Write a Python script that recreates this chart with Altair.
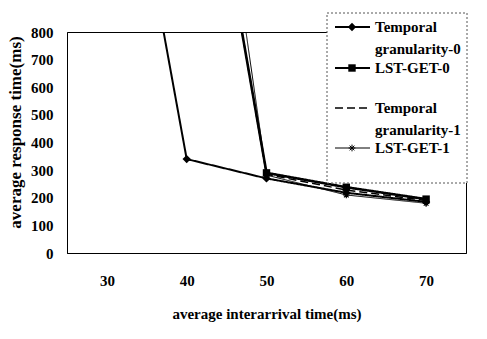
import altair as alt
import pandas as pd

# ---- data ----
categories = [30, 40, 50, 60, 70]
series_names = ["Temporal granularity-0", "LST-GET-0", "Temporal granularity-1", "LST-GET-1"]
tg0_values = [1930, 340, 270, 218, 185]
lst0_values = [None, 1950, 290, 238, 195]
tg1_values = [None, 1960, 285, 228, 190]
lst1_values = [None, 2300, 282, 210, 180]
y_ticks = [0, 100, 200, 300, 400, 500, 600, 700, 800]
legend_lines = [["Temporal", "granularity-0"], ["LST-GET-0"], ["Temporal", "granularity-1"], ["LST-GET-1"]]

FONT = "Liberation Serif"
STAR = "M-1,0L1,0M0,-1L0,1M-0.7,-0.7L0.7,0.7M-0.7,0.7L0.7,-0.7"

all_values = [tg0_values, lst0_values, tg1_values, lst1_values]
rows = []
for name, vals in zip(series_names, all_values):
    for c, v in zip(categories, vals):
        if v is not None:
            rows.append({"series": name, "x": c, "y": v})
df = pd.DataFrame(rows)

styles = {
    "Temporal granularity-0": dict(width=2, dash=[1, 0], shape="diamond", size=70, filled=True),
    "LST-GET-0": dict(width=2.6, dash=[1, 0], shape="square", size=55, filled=True),
    "Temporal granularity-1": dict(width=1.5, dash=[8, 4], shape=None, size=0, filled=True),
    "LST-GET-1": dict(width=1, dash=[1, 0], shape=STAR, size=45, filled=False),
}

xscale = alt.Scale(domain=[25, 75], nice=False)
yscale = alt.Scale(domain=[0, 800], nice=False)

xenc = alt.X("x:Q", scale=xscale,
             axis=alt.Axis(values=categories, format="d", title="average interarrival time(ms)",
                           grid=False, ticks=False, labelPadding=20, labelFontSize=15,
                           labelColor="black", titleFontSize=15,
                           titleColor="black", titleY=60, titleBaseline="middle",
                           domainColor="black"))
yenc = alt.Y("y:Q", scale=yscale,
             axis=alt.Axis(values=y_ticks, title="average response time(ms)", grid=False,
                           ticks=False, labelPadding=14, labelFontSize=15,
                           labelColor="black", titleFontSize=17,
                           titleColor="black", titleX=-52, titleY=100, titleAngle=-90,
                           titleAlign="center", titleBaseline="middle",
                           domainColor="black"))

layers = []
order = ["LST-GET-1", "Temporal granularity-1", "LST-GET-0", "Temporal granularity-0"]
for name in order:
    st = styles[name]
    sub = df[df["series"] == name]
    base = alt.Chart(sub)
    layers.append(base.mark_line(color="black", strokeWidth=st["width"], strokeDash=st["dash"],
                                 clip=True).encode(x=xenc, y=yenc))
    if st["shape"]:
        if st["filled"]:
            pm = base.mark_point(shape=st["shape"], size=st["size"], filled=True,
                                 color="black", opacity=1, clip=True)
        else:
            pm = base.mark_point(shape=st["shape"], size=st["size"], filled=False,
                                 color="black", strokeWidth=1.2, opacity=1, clip=True)
        layers.append(pm.encode(x=xenc, y=yenc))

# ---- legend (drawn over the plot, as in the reference) ----
dummy = pd.DataFrame({"k": [0]})
layers.append(alt.Chart(dummy).mark_rect(fill="white", stroke="#555", strokeDash=[2, 2],
                                         strokeWidth=1).encode(
    x=alt.value(260), x2=alt.value(400), y=alt.value(-19), y2=alt.value(151)))

legend_y = [-5, 36, 76, 116]
for name, lines, yy in zip(series_names, legend_lines, legend_y):
    st = styles[name]
    layers.append(alt.Chart(dummy).mark_rule(color="black", strokeWidth=min(st["width"], 2),
                                             strokeDash=st["dash"]).encode(
        x=alt.value(268), x2=alt.value(303), y=alt.value(yy)))
    if st["shape"]:
        layers.append(alt.Chart(dummy).mark_point(shape=st["shape"], size=st["size"],
                                                  filled=st["filled"], color="black",
                                                  opacity=1, strokeWidth=1).encode(
            x=alt.value(285), y=alt.value(yy)))
    for j, line in enumerate(lines):
        layers.append(alt.Chart(dummy).mark_text(text=line, align="left", baseline="middle",
                                                 fontSize=15, color="black").encode(
            x=alt.value(308), y=alt.value(yy + 22 * j)))

chart = alt.layer(*layers).properties(
    width=399, height=221,
    padding={"left": 67, "top": 32, "right": 21, "bottom": 86},
    autosize="none",
    background="white",
).configure(font=FONT).configure_view(stroke="black", strokeWidth=1).configure_axis(
    labelFont=FONT, titleFont=FONT, labelFontWeight="bold", titleFontWeight="bold"
).configure_text(font=FONT, fontWeight="bold")

chart.save("out.html", embed_options={"renderer": "svg", "actions": False})
